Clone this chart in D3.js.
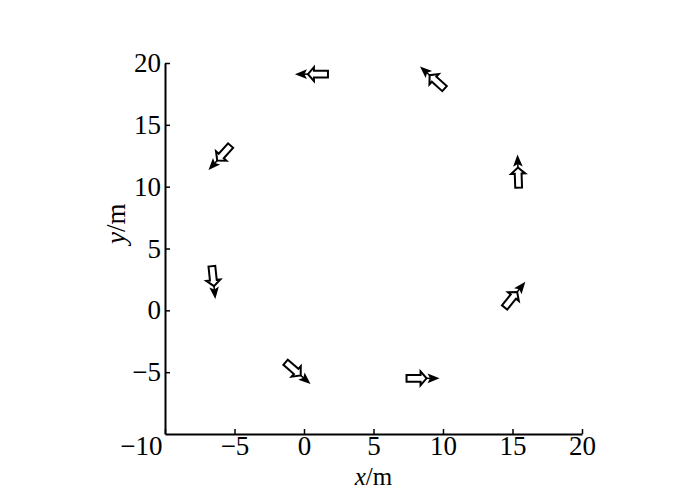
<!DOCTYPE html>
<html>
<head>
<meta charset="utf-8">
<script src="https://cdn.jsdelivr.net/npm/d3@7"></script>
<style>
  body { margin: 0; background: #fff; }
  text { font-family: 'Liberation Serif', 'Times New Roman', serif; }
</style>
</head>
<body>
<div id="root"></div>
<script>
// arrow glyph centres (m) and heading (deg, counter-clockwise from +x)
var arrowX = [0.5, 9.2, -6.1, 15.4, -6.5, 15.2, -0.4, 8.6];
var arrowY = [19.1, 18.85, 12.3, 11.3, 2.2, 1.3, -5.1, -5.5];
var arrowDir = [180, 138, 228, 92, 276, 51, 319, 0];
var xTicks = [-10, -5, 0, 5, 10, 15, 20];
var yTicks = [-5, 0, 5, 10, 15, 20];

var w = 700, h = 491;
var svg = d3.select('#root').append('svg')
  .attr('width', w)
  .attr('height', h);

var x = d3.scaleLinear().domain([-10, 20]).range([165, 582]);
var y = d3.scaleLinear().domain([-10, 20]).range([434, 63]);

var fmt = function(d) { return d < 0 ? '\u2212' + (-d) : d; };

// axes
var xAxis = svg.append('g')
  .attr('transform', 'translate(0,' + y(-10) + ')')
  .call(d3.axisBottom(x).tickValues(xTicks).tickSizeInner(-5).tickSizeOuter(0)
    .tickPadding(2).tickFormat(fmt));
var yAxis = svg.append('g')
  .attr('transform', 'translate(' + x(-10) + ',0)')
  .call(d3.axisLeft(y).tickValues(yTicks).tickSizeInner(-5).tickSizeOuter(0)
    .tickPadding(4).tickFormat(fmt));

[xAxis, yAxis].forEach(function(g) {
  g.select('.domain').attr('stroke', '#000').attr('stroke-width', 2);
  g.selectAll('.tick line').attr('stroke', '#000').attr('stroke-width', 1.5);
  g.selectAll('.tick text')
    .attr('fill', '#000')
    .style('font-family', "'Liberation Serif', serif")
    .style('font-size', '27px');
});
// the -10 label sits left of the corner
xAxis.selectAll('.tick text')
  .filter(function(d) { return d === -10; })
  .attr('text-anchor', 'end')
  .attr('dx', -3);

// axis titles
var xt = svg.append('text')
  .attr('x', x(5))
  .attr('y', 485)
  .attr('text-anchor', 'middle')
  .style('font-size', '25px');
xt.append('tspan').style('font-style', 'italic').text('x');
xt.append('tspan').text('/m');

var yt = svg.append('text')
  .attr('transform', 'translate(125,' + y(7) + ') rotate(-90)')
  .attr('text-anchor', 'middle')
  .style('font-size', '27px');
yt.append('tspan').style('font-style', 'italic').text('y');
yt.append('tspan').text('/m');

// arrows: hollow block arrow followed by a small filled head
var hollow = 'M-17,-3.4 L-3,-3.4 L-3,-7 L3,0 L-3,7 L-3,3.4 L-17,3.4 Z';
var head = 'M16,0 L4,-4.8 L6.5,0 L4,4.8 Z';

var data = arrowX.map(function(d, i) {
  return { x: arrowX[i], y: arrowY[i], dir: arrowDir[i] };
});

var arrows = svg.append('g')
  .attr('id', 'arrows')
  .selectAll('g')
  .data(data)
  .enter()
  .append('g')
  .attr('transform', function(d) {
    return 'translate(' + x(d.x) + ',' + y(d.y) + ') rotate(' + (-d.dir) + ')';
  });
arrows.append('path')
  .attr('d', hollow)
  .attr('fill', '#fff')
  .attr('stroke', '#000')
  .attr('stroke-width', 2)
  .attr('stroke-linejoin', 'miter');
arrows.append('line')
  .attr('x1', 3).attr('y1', 0)
  .attr('x2', 7).attr('y2', 0)
  .attr('stroke', '#000')
  .attr('stroke-width', 1.5);
arrows.append('path')
  .attr('d', head)
  .attr('fill', '#000');
</script>
</body>
</html>
